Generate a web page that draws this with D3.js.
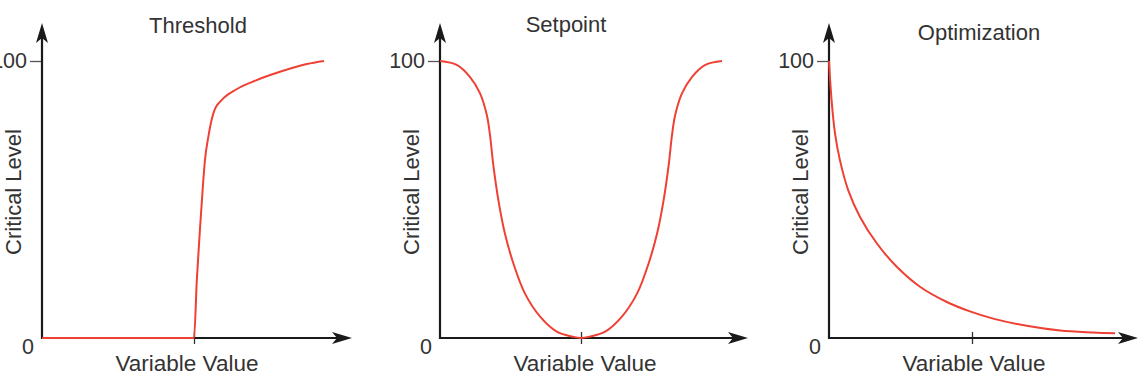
<!DOCTYPE html>
<html><head><meta charset="utf-8">
<script src="https://cdn.jsdelivr.net/npm/d3@7"></script>
<style>body{margin:0;background:#fff} text{font-family:"Liberation Sans",Arial,sans-serif;fill:#333}</style>
</head><body><svg id="c" width="1148" height="383"></svg>
<script>
// ---- data ----
const titles = ["Threshold", "Setpoint", "Optimization"];
const xLabel = "Variable Value";
const yLabel = "Critical Level";
const yTickValues = [100];
const zeroLabel = "0";
const midTicks = [53.9, 50, 50];

const thresholdX = [0, 53.9, 54.9, 56.0, 57.2, 57.8, 59.0, 60.2, 61.3, 63.7, 69.0, 76.1, 84.4, 93.9, 100];
const thresholdY = [0, 0, 20.9, 39.0, 57.0, 64.3, 72.7, 79.0, 82.6, 85.9, 89.8, 93.1, 96.1, 98.9, 100];

const setpointX = [0, 5.9, 10.6, 14.2, 16.6, 17.7, 18.9, 20.7, 23.0, 26.0, 30.1, 35.5, 41.4, 47.3, 50, 52.7, 58.6, 64.5, 69.9, 74.0, 77.0, 79.3, 81.1, 82.3, 83.4, 85.8, 89.4, 94.1, 100];
const setpointY = [100, 98.6, 94.3, 88.3, 80.5, 73.5, 62.5, 49.8, 37.8, 27.0, 16.1, 7.7, 2.3, 0.4, 0, 0.4, 2.3, 7.7, 16.1, 27.0, 37.8, 49.8, 62.5, 73.5, 80.5, 88.3, 94.3, 98.6, 100];

const optimizationX = [0, 0.9, 2.1, 3.8, 6.7, 10.8, 16.7, 23.7, 31.8, 41.2, 49.3, 57.4, 69.1, 80.8, 92.4, 100];
const optimizationY = [100, 85.9, 73.9, 64.3, 53.4, 43.8, 34.2, 25.7, 18.5, 13.0, 9.6, 7.0, 4.4, 2.7, 2.0, 1.7];

const seriesX = [thresholdX, setpointX, optimizationX];
const seriesY = [thresholdY, setpointY, optimizationY];

// ---- layout ----
const layout = [
  {ox: 42, xr: 324, ax: 352, tx: 198, ty: 33},
  {ox: 440, xr: 722, ax: 748, tx: 566, ty: 32},
  {ox: 829, xr: 1115, ax: 1138, tx: 979, ty: 40}
];
const yBase = 338, yTop = 61, yArrow = 23;
const axisColor = "#1a1a1a", curveColor = "#ef4034";
const curves = [d3.curveMonotoneX, d3.curveCatmullRom.alpha(0.5), d3.curveCatmullRom.alpha(0.5)];

const svg = d3.select("#c");
const y = d3.scaleLinear().domain([0, 100]).range([yBase, yTop]);

layout.forEach((L, i) => {
  const g = svg.append("g");
  const x = d3.scaleLinear().domain([0, 100]).range([L.ox, L.xr]);

  // y axis with tick at 100
  const ya = g.append("g").attr("transform", `translate(${L.ox},0)`)
    .call(d3.axisLeft(y).tickValues(yTickValues).tickSize(12).tickPadding(3).tickSizeOuter(0));
  ya.select(".domain").remove();
  ya.selectAll(".tick line").attr("stroke", "#555").attr("stroke-width", 1.3);
  ya.selectAll(".tick text").attr("font-size", 21.5).attr("fill", "#333")
    .style("font-family", "'Liberation Sans',Arial,sans-serif");

  // x axis with middle tick
  const xa = g.append("g").attr("transform", `translate(0,${yBase})`)
    .call(d3.axisBottom(x).tickValues([midTicks[i]]).tickFormat("").tickSize(6).tickSizeOuter(0));
  xa.select(".domain").remove();
  xa.selectAll(".tick line").attr("y1", -6).attr("stroke", "#333").attr("stroke-width", 1.3);

  // axis lines
  g.append("line").attr("x1", L.ox).attr("x2", L.ox).attr("y1", yBase + 1).attr("y2", yArrow + 12)
    .attr("stroke", axisColor).attr("stroke-width", 2.2);
  g.append("line").attr("x1", L.ox - 1).attr("x2", L.ax - 12).attr("y1", yBase).attr("y2", yBase)
    .attr("stroke", axisColor).attr("stroke-width", 2.2);
  // arrowheads
  g.append("path").attr("fill", axisColor)
    .attr("d", `M${L.ox},${yArrow} L${L.ox + 6},${yArrow + 20} L${L.ox},${yArrow + 15} L${L.ox - 6},${yArrow + 20} Z`);
  g.append("path").attr("fill", axisColor)
    .attr("d", `M${L.ax},${yBase} L${L.ax - 20},${yBase - 6} L${L.ax - 15},${yBase} L${L.ax - 20},${yBase + 6} Z`);

  // zero label
  g.append("text").attr("x", L.ox - 14).attr("y", yBase + 16).attr("text-anchor", "middle")
    .attr("font-size", 21.5).text(zeroLabel);

  // titles and labels
  g.append("text").attr("x", L.tx).attr("y", L.ty).attr("text-anchor", "middle")
    .attr("font-size", 22).text(titles[i]);
  g.append("text").attr("x", L.ox + 145).attr("y", 371).attr("text-anchor", "middle")
    .attr("font-size", 22.5).text(xLabel);
  g.append("text").attr("transform", `translate(${L.ox - 29},192) rotate(-90)`)
    .attr("dy", "0.36em").attr("text-anchor", "middle").attr("font-size", 22).text(yLabel);

  // curve
  const pts = seriesX[i].map((v, k) => [v, seriesY[i][k]]);
  g.append("path").datum(pts)
    .attr("fill", "none").attr("stroke", curveColor).attr("stroke-width", 2)
    .attr("d", d3.line().x(d => x(d[0])).y(d => y(d[1])).curve(curves[i]));
});
</script>
</body></html>
